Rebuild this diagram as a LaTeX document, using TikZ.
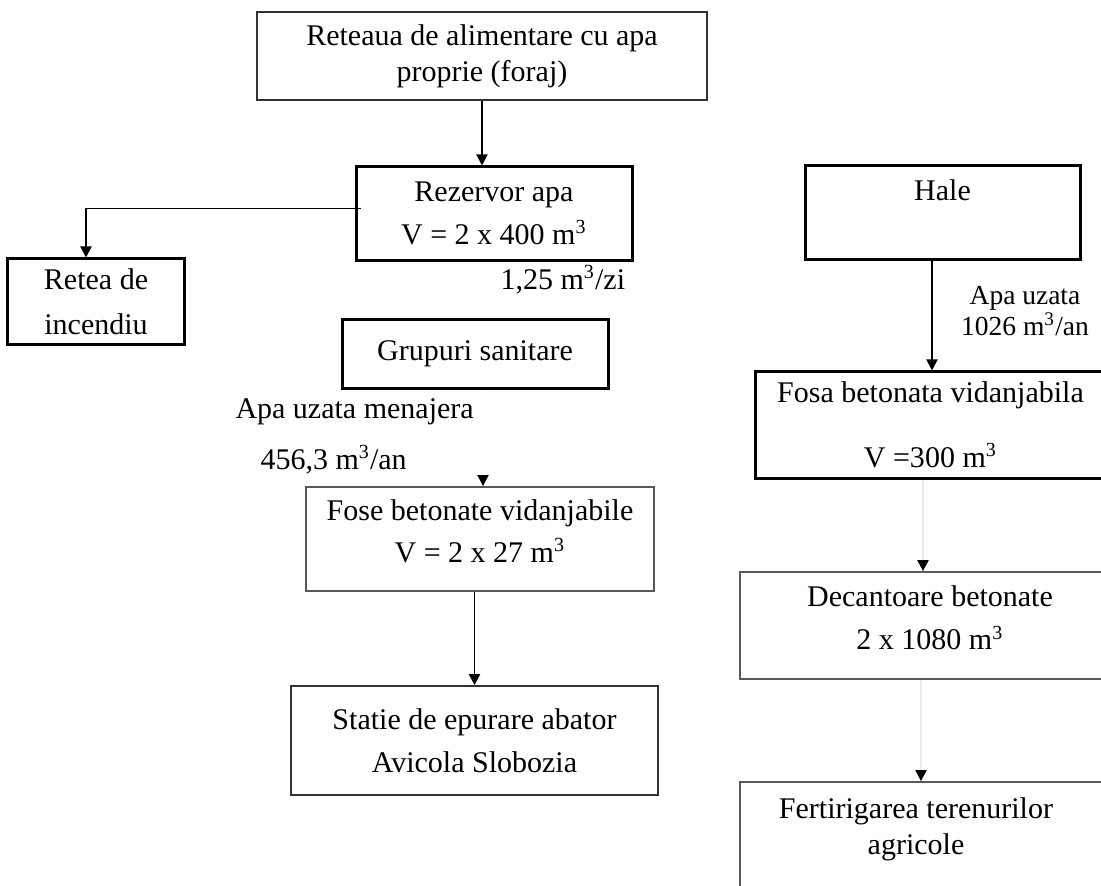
\documentclass[tikz,border=0pt]{standalone}
\usepackage{fontspec}
\setmainfont{Liberation Serif}
\usetikzlibrary{arrows.meta}

\tikzset{
  txt/.style={font=\fontsize{12}{14.5}\selectfont, align=center, inner sep=0pt},
  thickbox/.style={txt, draw=black, line width=1.2pt},
  thinbox/.style={txt, draw=black!65, line width=0.7pt},
  arr/.style={-{Triangle[width=4.4pt,length=4.4pt,black]}, line width=0.75pt},
  faint/.style={arr, draw=black!8},
}

\begin{document}
\begin{tikzpicture}[x=0.4pt,y=-0.4pt]
\path[use as bounding box, clip] (0,0) rectangle (1101,886);

% coloana din stanga
\node[thinbox, draw=black!80, minimum width=180pt, minimum height=35.2pt] (retea apa) at (482,56)
  {Reteaua de alimentare cu apa\\proprie (foraj)};
\node[thickbox, minimum width=110.4pt, minimum height=37.2pt] (rezervor) at (494,213.5)
  {Rezervor apa\\[2.7pt]V = 2 x 400 m\textsuperscript{3}};
\node[thickbox, minimum width=70.4pt, minimum height=34pt] (incendiu) at (96,301.5)
  {Retea de\\[3.5pt]incendiu};
\node[thickbox, minimum width=106.4pt, minimum height=27.2pt] (grupuri) at (475,354)
  {Grupuri sanitare};
\node[thinbox, minimum width=139.2pt, minimum height=41.6pt, text depth=6.4pt] (fose) at (480,539)
  {Fose betonate vidanjabile\\[2.3pt]V = 2 x 27 m\textsuperscript{3}};
\node[thinbox, draw=black!80, minimum width=146.8pt, minimum height=43.6pt] (statie) at (474.5,740.5)
  {Statie de epurare abator\\[2.5pt]Avicola Slobozia};

% coloana din dreapta
\node[thickbox, minimum width=110pt, minimum height=37.2pt, text depth=18pt] (hale) at (942.5,212.5)
  {Hale};
\node[thickbox, minimum width=140.4pt, minimum height=42.4pt] (fosa) at (930.5,425)
  {Fosa betonata vidanjabila\\[11.5pt]V =300 m\textsuperscript{3}};
\node[thinbox, minimum width=152pt, minimum height=42.8pt, text depth=6pt] (decantoare) at (930,625.5)
  {Decantoare betonate\\[2.7pt]2 x 1080 m\textsuperscript{3}};
\node[thinbox, minimum width=156pt, minimum height=47.2pt] (fertirigare) at (935,841) {};
\node[txt] (fert text) at (916,829) {Fertirigarea terenurilor\\agricole};

% debite
\node[txt, anchor=base west] (debit rez) at (500,289) {1,25 m\textsuperscript{3}/zi};
\node[txt, anchor=base west] (uzata men) at (235,418) {Apa uzata menajera};
\node[txt, anchor=base west] (debit men) at (260,469) {456,3 m\textsuperscript{3}/an};
\node[txt, font=\fontsize{11}{10.4}\selectfont] (uzata hale) at (1025,311)
  {Apa uzata\\1026 m\textsuperscript{3}/an};

% legaturi
\draw[arr] (retea apa.south) -- (retea apa.south |- rezervor.north);
\draw[arr] ([xshift=2.4pt,yshift=2pt]rezervor.west) -| ([xshift=-4pt]incendiu.north);
\draw[arr, draw=white] ([xshift=3.2pt]grupuri.south) -- ([xshift=3.2pt]grupuri.south |- fose.north);
\draw[arr] (fose.south -| statie.north) -- (statie.north);
\draw[arr] ([xshift=-4.2pt]hale.south) -- ([xshift=-4.2pt]hale.south |- fosa.north);
\draw[faint] ([xshift=-3pt]fosa.south) -- ([xshift=-3pt]fosa.south |- decantoare.north);
\draw[faint] ([xshift=-3.6pt]decantoare.south) -- ([xshift=-3.6pt]decantoare.south |- fertirigare.north);
\end{tikzpicture}
\end{document}
